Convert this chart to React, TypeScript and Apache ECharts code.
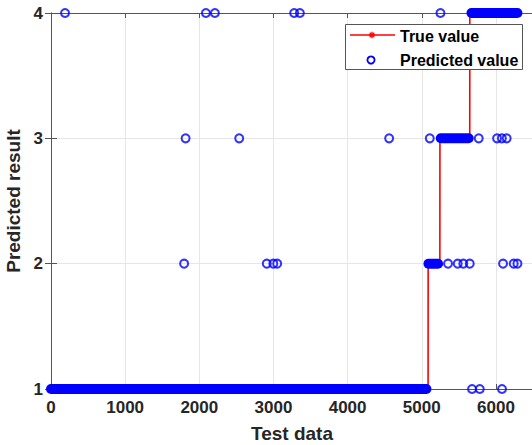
import React, { useEffect, useRef } from "react";
import * as echarts from "echarts";

// Axis settings
const xMin = 0;
const xMax = 6500;
const xStep = 1000;
const yTicks = [1, 2, 3, 4];

// True value: step line (index, class)
const trueX = [0, 5085, 5086, 5244, 5245, 5647, 5648, 6290];
const trueY = [1, 1, 2, 2, 3, 3, 4, 4];

// Predicted value: dense runs of consecutive samples with the same prediction
const runStart = [0, 5090, 5256, 5670];
const runEnd = [5063, 5220, 5633, 6290];
const runValue = [1, 2, 3, 4];

// Predicted value: isolated samples
const scatterX = [
  189, 2089, 2210, 3279, 3356, 5252,
  1815, 2538, 4560, 5108, 5768, 6015, 6080, 6145,
  1795, 2910, 2998, 3050, 5354, 5485, 5560, 5647, 6096, 6240, 6290,
  5678, 5782, 6082,
];
const scatterY = [
  4, 4, 4, 4, 4, 4,
  3, 3, 3, 3, 3, 3, 3, 3,
  2, 2, 2, 2, 2, 2, 2, 2, 2, 2, 2,
  1, 1, 1,
];

const seriesNames = ["True value", "Predicted value"];
const xName = "Test data";
const yName = "Predicted result";

const TEXT = "#262626";
const AXIS = "#555555";
const GRID = "#e6e6e6";
const BLUE = "#0000ff";
const RED = "#ff0000";
const FONT = "'Liberation Sans', Arial, Helvetica, sans-serif";

export default function App() {
  const ref = useRef<HTMLDivElement>(null);

  useEffect(() => {
    if (!ref.current) return;
    const chart = echarts.init(ref.current, undefined, { renderer: "svg" });

    const trueData = trueX.map((x, i) => [x, trueY[i]]);
    const scatterData = scatterX.map((x, i) => [x, scatterY[i]]);

    const runSeries = runStart.map((s, i) => ({
      type: "line" as const,
      name: seriesNames[1] + " run " + i,
      data: [
        [s, runValue[i]],
        [runEnd[i], runValue[i]],
      ],
      symbol: "none",
      clip: false,
      silent: true,
      lineStyle: { color: BLUE, width: 10, cap: "round" as const },
      z: 3,
    }));

    const asterisk = (cx: number, cy: number, r: number) => {
      const d = r * 0.7071;
      return [
        [cx - r, cy, cx + r, cy],
        [cx, cy - r, cx, cy + r],
        [cx - d, cy - d, cx + d, cy + d],
        [cx - d, cy + d, cx + d, cy - d],
      ].map((p) => ({
        type: "line",
        shape: { x1: p[0], y1: p[1], x2: p[2], y2: p[3] },
        style: { stroke: RED, lineWidth: 1.3 },
        z: 101,
      }));
    };

    const labelStyle = {
      color: TEXT,
      fontFamily: FONT,
      fontWeight: "bold" as const,
      fontSize: 17,
    };

    chart.setOption({
      animation: false,
      backgroundColor: "#ffffff",
      grid: {
        left: 51,
        top: 13,
        width: 482,
        height: 376,
        containLabel: false,
        outerBoundsMode: "none",
      },
      xAxis: [
        {
          type: "value",
          min: xMin,
          max: xMax,
          interval: xStep,
          position: "bottom",
          name: xName,
          nameLocation: "middle",
          nameGap: 35,
          nameTextStyle: { ...labelStyle, fontSize: 19 },
          axisLine: { show: true, lineStyle: { color: AXIS, width: 1 } },
          axisTick: { show: true, inside: true, length: 5, lineStyle: { color: AXIS } },
          axisLabel: {
            ...labelStyle,
            margin: 10,
            showMaxLabel: false,
            formatter: (v: number) => String(v),
          },
          splitLine: { show: true, lineStyle: { color: GRID, width: 1 } },
        },
        {
          type: "value",
          min: xMin,
          max: xMax,
          interval: xStep,
          position: "top",
          axisLine: { show: true, lineStyle: { color: AXIS, width: 1 } },
          axisTick: { show: true, inside: true, length: 5, lineStyle: { color: AXIS } },
          axisLabel: { show: false },
          splitLine: { show: false },
        },
      ],
      yAxis: [
        {
          type: "value",
          min: yTicks[0],
          max: yTicks[yTicks.length - 1],
          interval: 1,
          position: "left",
          name: yName,
          nameLocation: "middle",
          nameRotate: 90,
          nameGap: 24,
          nameTextStyle: { ...labelStyle, fontSize: 19 },
          axisLine: { show: true, lineStyle: { color: AXIS, width: 1 } },
          axisTick: { show: true, inside: true, length: 6, lineStyle: { color: AXIS } },
          axisLabel: { ...labelStyle, margin: 8, formatter: (v: number) => String(v) },
          splitLine: { show: true, lineStyle: { color: GRID, width: 1 } },
        },
        {
          type: "value",
          min: yTicks[0],
          max: yTicks[yTicks.length - 1],
          interval: 1,
          position: "right",
          axisLine: { show: true, lineStyle: { color: AXIS, width: 1 } },
          axisTick: { show: true, inside: true, length: 6, lineStyle: { color: AXIS } },
          axisLabel: { show: false },
          splitLine: { show: false },
        },
      ],
      series: [
        {
          type: "line",
          name: seriesNames[0],
          data: trueData,
          symbol: "none",
          clip: false,
          lineStyle: { color: RED, width: 1.6 },
          z: 2,
        },
        ...runSeries,
        {
          type: "scatter",
          name: seriesNames[1],
          data: scatterData,
          symbol: "circle",
          symbolSize: 8,
          clip: false,
          itemStyle: { color: "rgba(0,0,0,0)", borderColor: BLUE, borderWidth: 2 },
          z: 4,
        },
      ],
      graphic: [
        {
          type: "rect",
          shape: { x: 345.5, y: 24.5, width: 177, height: 45 },
          style: { fill: "#ffffff", stroke: "#555555", lineWidth: 1 },
          z: 100,
        },
        {
          type: "line",
          shape: { x1: 350, y1: 35, x2: 395, y2: 35 },
          style: { stroke: RED, lineWidth: 1.6 },
          z: 101,
        },
        ...asterisk(372, 35, 3.2),
        {
          type: "text",
          x: 400,
          y: 36,
          style: {
            text: seriesNames[0],
            fill: "#000000",
            font: `bold 16px ${FONT}`,
            verticalAlign: "middle",
            align: "left",
          },
          z: 101,
        },
        {
          type: "circle",
          shape: { cx: 371, cy: 60, r: 3.6 },
          style: { fill: "none", stroke: BLUE, lineWidth: 1.8 },
          z: 101,
        },
        {
          type: "text",
          x: 400,
          y: 60,
          style: {
            text: seriesNames[1],
            fill: "#000000",
            font: `bold 16px ${FONT}`,
            verticalAlign: "middle",
            align: "left",
          },
          z: 101,
        },
      ],
    });

    return () => chart.dispose();
  }, []);

  return (
    <div
      ref={ref}
      style={{ position: "fixed", left: 0, top: 0, width: 532, height: 445, background: "#fff" }}
    />
  );
}
